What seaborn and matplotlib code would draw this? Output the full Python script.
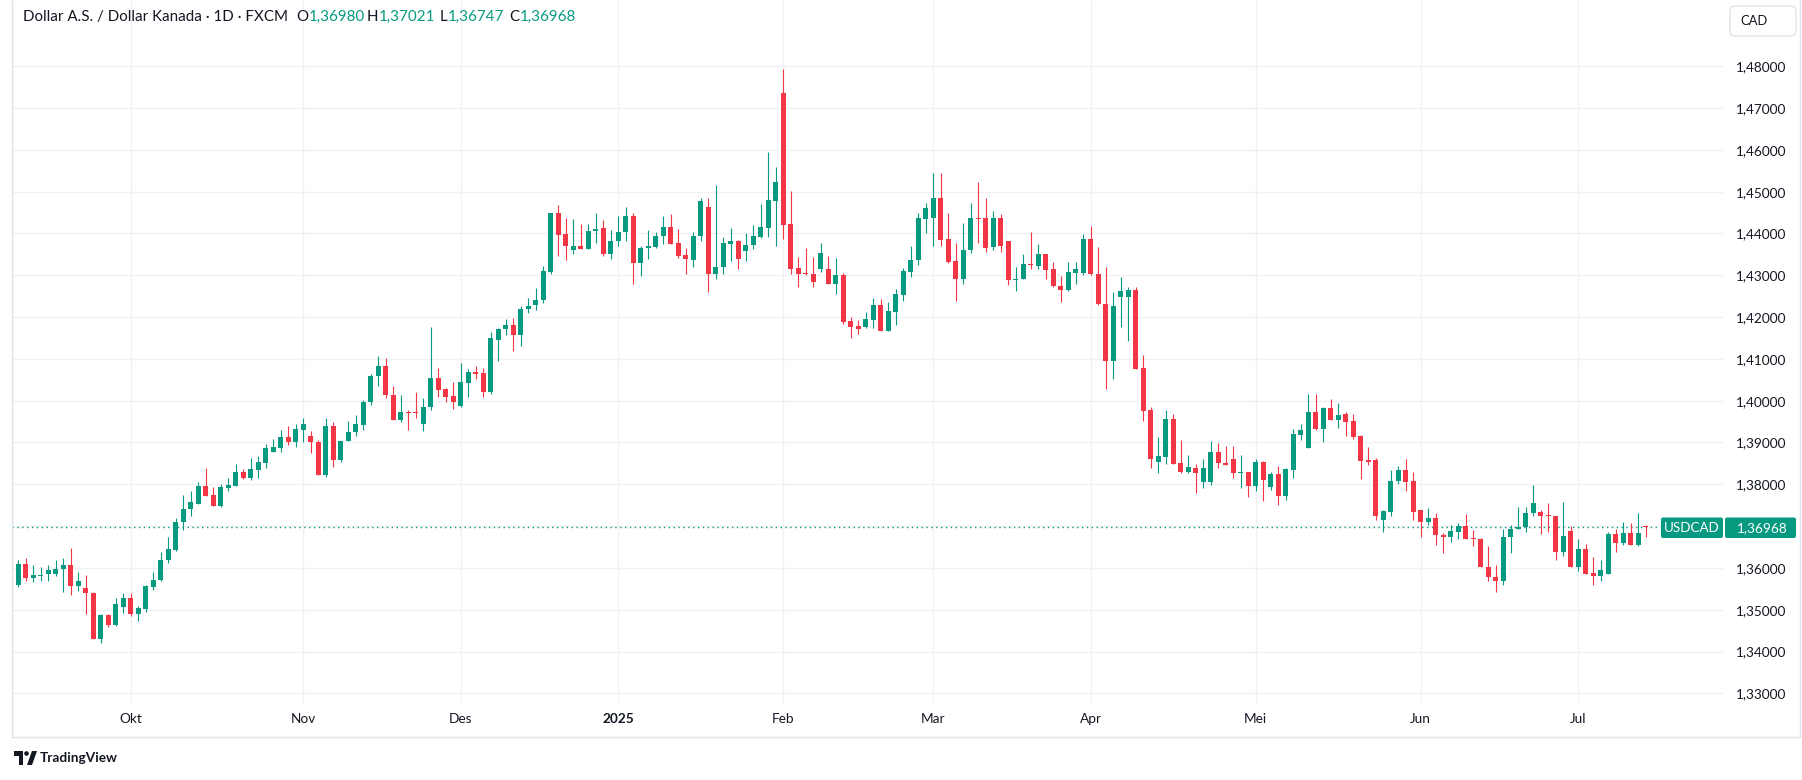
import matplotlib
matplotlib.use("Agg")
import matplotlib.pyplot as plt
from matplotlib.patches import FancyBboxPatch, Polygon, Circle
from matplotlib.lines import Line2D
from matplotlib.transforms import Affine2D
from matplotlib.ticker import FuncFormatter
import numpy as np
import pandas as pd
import seaborn as sns

# daily USD/CAD candles
opens = [
    1.3559, 1.3610, 1.3575, 1.3580, 1.3585, 1.3585, 1.3597, 1.3606, 1.3556, 1.3553,
    1.3541, 1.3430, 1.3487, 1.3463, 1.3506, 1.3527, 1.3490, 1.3502, 1.3554, 1.3571,
    1.3618, 1.3643, 1.3709, 1.3740, 1.3754, 1.3796, 1.3774, 1.3749, 1.3792, 1.3797,
    1.3830, 1.3816, 1.3835, 1.3852, 1.3878, 1.3888, 1.3914, 1.3902, 1.3931, 1.3916,
    1.3902, 1.3823, 1.3940, 1.3859, 1.3904, 1.3925, 1.3943, 1.3996, 1.4058, 1.4084,
    1.4014, 1.3955, 1.3973, 1.3973, 1.3945, 1.3984, 1.4054, 1.4028, 1.4011, 1.3988,
    1.4043, 1.4069, 1.4066, 1.4022, 1.4146, 1.4171, 1.4182, 1.4156, 1.4219, 1.4228,
    1.4241, 1.4309, 1.4448, 1.4398, 1.4360, 1.4371, 1.4362, 1.4407, 1.4413, 1.4352,
    1.4382, 1.4403, 1.4442, 1.4330, 1.4365, 1.4368, 1.4393, 1.4416, 1.4377, 1.4348,
    1.4337, 1.4393, 1.4463, 1.4304, 1.4319, 1.4375, 1.4382, 1.4357, 1.4372, 1.4392,
    1.4414, 1.4478, 1.4736, 1.4423, 1.4318, 1.4305, 1.4303, 1.4314, 1.4316, 1.4278,
    1.4301, 1.4190, 1.4178, 1.4177, 1.4194, 1.4229, 1.4167, 1.4213, 1.4254, 1.4309,
    1.4336, 1.4435, 1.4436, 1.4484, 1.4388, 1.4335, 1.4292, 1.4361, 1.4436, 1.4436,
    1.4367, 1.4438, 1.4383, 1.4288, 1.4291, 1.4326, 1.4322, 1.4350, 1.4314, 1.4275,
    1.4264, 1.4306, 1.4306, 1.4388, 1.4304, 1.4232, 1.4094, 1.4247, 1.4247, 1.4266,
    1.4079, 1.3978, 1.3854, 1.3866, 1.3956, 1.3852, 1.3830, 1.3839, 1.3806, 1.3806,
    1.3878, 1.3851, 1.3861, 1.3828, 1.3830, 1.3797, 1.3854, 1.3794, 1.3825, 1.3773,
    1.3835, 1.3919, 1.3886, 1.3974, 1.3933, 1.3983, 1.3954, 1.3969, 1.3952, 1.3916,
    1.3858, 1.3857, 1.3714, 1.3733, 1.3808, 1.3834, 1.3808, 1.3739, 1.3711, 1.3720,
    1.3679, 1.3673, 1.3687, 1.3701, 1.3671, 1.3670, 1.3603, 1.3579, 1.3568, 1.3673,
    1.3692, 1.3697, 1.3732, 1.3734, 1.3725, 1.3725, 1.3637, 1.3689, 1.3602, 1.3646,
    1.3587, 1.3580, 1.3585, 1.3682, 1.3659, 1.3684, 1.3654, 1.36980,
]
highs = [
    1.3618, 1.3624, 1.3606, 1.3601, 1.3608, 1.3618, 1.3624, 1.3648, 1.3591, 1.3582,
    1.3542, 1.3489, 1.3490, 1.3527, 1.3540, 1.3541, 1.3510, 1.3560, 1.3591, 1.3639,
    1.3675, 1.3720, 1.3775, 1.3785, 1.3806, 1.3839, 1.3794, 1.3801, 1.3815, 1.3849,
    1.3837, 1.3863, 1.3868, 1.3897, 1.3909, 1.3930, 1.3940, 1.3945, 1.3959, 1.3928,
    1.3906, 1.3959, 1.3950, 1.3904, 1.3952, 1.3966, 1.4002, 1.4065, 1.4106, 1.4103,
    1.4036, 1.4014, 1.3977, 1.4021, 1.4007, 1.4177, 1.4078, 1.4030, 1.4045, 1.4090,
    1.4076, 1.4083, 1.4078, 1.4165, 1.4174, 1.4196, 1.4198, 1.4227, 1.4246, 1.4270,
    1.4323, 1.4450, 1.4467, 1.4436, 1.4434, 1.4422, 1.4422, 1.4450, 1.4432, 1.4409,
    1.4442, 1.4464, 1.4449, 1.4370, 1.4409, 1.4404, 1.4442, 1.4447, 1.4411, 1.4365,
    1.4404, 1.4485, 1.4485, 1.4516, 1.4392, 1.4413, 1.4385, 1.4401, 1.4420, 1.4471,
    1.4595, 1.4559, 1.4794, 1.4502, 1.4344, 1.4366, 1.4344, 1.4378, 1.4347, 1.4342,
    1.4306, 1.4200, 1.4193, 1.4212, 1.4246, 1.4243, 1.4236, 1.4268, 1.4318, 1.4369,
    1.4450, 1.4472, 1.4544, 1.4544, 1.4450, 1.4378, 1.4426, 1.4474, 1.4523, 1.4486,
    1.4453, 1.4446, 1.4383, 1.4321, 1.4350, 1.4403, 1.4374, 1.4352, 1.4333, 1.4299,
    1.4331, 1.4333, 1.4398, 1.4417, 1.4367, 1.4319, 1.4259, 1.4297, 1.4273, 1.4273,
    1.4110, 1.3986, 1.3912, 1.3978, 1.3967, 1.3907, 1.3870, 1.3849, 1.3861, 1.3904,
    1.3899, 1.3892, 1.3892, 1.3870, 1.3830, 1.3861, 1.3856, 1.3830, 1.3844, 1.3839,
    1.3933, 1.3945, 1.4017, 1.4017, 1.3985, 1.4005, 1.3995, 1.3974, 1.3969, 1.3918,
    1.3890, 1.3863, 1.3739, 1.3834, 1.3844, 1.3860, 1.3829, 1.3739, 1.3744, 1.3732,
    1.3683, 1.3703, 1.3708, 1.3729, 1.3691, 1.3672, 1.3653, 1.3608, 1.3694, 1.3703,
    1.3746, 1.3746, 1.3798, 1.3739, 1.3756, 1.3725, 1.3758, 1.3701, 1.3668, 1.3658,
    1.3625, 1.3618, 1.3687, 1.3694, 1.3710, 1.3708, 1.3732, 1.37021,
]
lows = [
    1.3554, 1.3568, 1.3566, 1.3568, 1.3568, 1.3580, 1.3542, 1.3535, 1.3544, 1.3490,
    1.3429, 1.3420, 1.3459, 1.3460, 1.3492, 1.3485, 1.3473, 1.3494, 1.3547, 1.3568,
    1.3611, 1.3641, 1.3691, 1.3725, 1.3752, 1.3771, 1.3749, 1.3746, 1.3784, 1.3797,
    1.3813, 1.3811, 1.3814, 1.3838, 1.3878, 1.3878, 1.3895, 1.3890, 1.3902, 1.3876,
    1.3823, 1.3818, 1.3842, 1.3854, 1.3904, 1.3916, 1.3930, 1.3989, 1.4034, 1.4006,
    1.3955, 1.3950, 1.3930, 1.3958, 1.3928, 1.3978, 1.4010, 1.3998, 1.3981, 1.3986,
    1.4010, 1.4053, 1.4010, 1.4017, 1.4094, 1.4156, 1.4120, 1.4132, 1.4211, 1.4218,
    1.4233, 1.4304, 1.4346, 1.4336, 1.4350, 1.4362, 1.4362, 1.4377, 1.4345, 1.4338,
    1.4371, 1.4383, 1.4280, 1.4299, 1.4340, 1.4365, 1.4376, 1.4376, 1.4342, 1.4302,
    1.4321, 1.4383, 1.4261, 1.4290, 1.4302, 1.4335, 1.4316, 1.4335, 1.4363, 1.4389,
    1.4392, 1.4370, 1.4388, 1.4302, 1.4271, 1.4300, 1.4273, 1.4307, 1.4278, 1.4256,
    1.4184, 1.4150, 1.4160, 1.4174, 1.4174, 1.4167, 1.4167, 1.4182, 1.4239, 1.4295,
    1.4324, 1.4400, 1.4369, 1.4371, 1.4330, 1.4239, 1.4280, 1.4354, 1.4378, 1.4355,
    1.4360, 1.4355, 1.4276, 1.4262, 1.4291, 1.4315, 1.4315, 1.4291, 1.4271, 1.4235,
    1.4262, 1.4279, 1.4300, 1.4300, 1.4228, 1.4027, 1.4053, 1.4176, 1.4144, 1.4075,
    1.3952, 1.3840, 1.3828, 1.3849, 1.3849, 1.3828, 1.3828, 1.3780, 1.3792, 1.3799,
    1.3840, 1.3845, 1.3816, 1.3791, 1.3770, 1.3785, 1.3761, 1.3787, 1.3751, 1.3763,
    1.3814, 1.3906, 1.3886, 1.3930, 1.3902, 1.3954, 1.3935, 1.3916, 1.3909, 1.3813,
    1.3846, 1.3714, 1.3687, 1.3723, 1.3801, 1.3784, 1.3714, 1.3675, 1.3702, 1.3654,
    1.3635, 1.3661, 1.3670, 1.3668, 1.3652, 1.3602, 1.3568, 1.3542, 1.3559, 1.3635,
    1.3692, 1.3687, 1.3725, 1.3680, 1.3686, 1.3618, 1.3628, 1.3602, 1.3592, 1.3585,
    1.3559, 1.3568, 1.3585, 1.3639, 1.3654, 1.3654, 1.3652, 1.36747,
]
closes = [
    1.3610, 1.3575, 1.3582, 1.3584, 1.3594, 1.3598, 1.3606, 1.3556, 1.3568, 1.3540,
    1.3430, 1.3487, 1.3463, 1.3513, 1.3527, 1.3490, 1.3503, 1.3556, 1.3572, 1.3620,
    1.3646, 1.3710, 1.3741, 1.3758, 1.3796, 1.3772, 1.3749, 1.3794, 1.3798, 1.3830,
    1.3816, 1.3837, 1.3854, 1.3887, 1.3890, 1.3914, 1.3902, 1.3933, 1.3945, 1.3900,
    1.3823, 1.3940, 1.3859, 1.3904, 1.3926, 1.3945, 1.3998, 1.4060, 1.4084, 1.4013,
    1.3955, 1.3974, 1.3970, 1.3971, 1.3985, 1.4054, 1.4026, 1.4010, 1.3998, 1.4045,
    1.4069, 1.4064, 1.4022, 1.4150, 1.4172, 1.4182, 1.4156, 1.4220, 1.4227, 1.4242,
    1.4311, 1.4448, 1.4396, 1.4370, 1.4371, 1.4362, 1.4407, 1.4410, 1.4352, 1.4382,
    1.4404, 1.4442, 1.4330, 1.4365, 1.4370, 1.4394, 1.4416, 1.4376, 1.4347, 1.4338,
    1.4394, 1.4478, 1.4304, 1.4320, 1.4377, 1.4382, 1.4338, 1.4373, 1.4394, 1.4416,
    1.4480, 1.4523, 1.4421, 1.4316, 1.4304, 1.4303, 1.4285, 1.4354, 1.4278, 1.4301,
    1.4189, 1.4177, 1.4172, 1.4195, 1.4229, 1.4167, 1.4215, 1.4255, 1.4311, 1.4337,
    1.4436, 1.4460, 1.4484, 1.4385, 1.4332, 1.4292, 1.4361, 1.4436, 1.4434, 1.4366,
    1.4438, 1.4370, 1.4288, 1.4291, 1.4326, 1.4324, 1.4350, 1.4312, 1.4274, 1.4264,
    1.4307, 1.4314, 1.4388, 1.4303, 1.4231, 1.4094, 1.4227, 1.4263, 1.4266, 1.4077,
    1.3976, 1.3861, 1.3868, 1.3956, 1.3849, 1.3830, 1.3842, 1.3828, 1.3839, 1.3878,
    1.3850, 1.3846, 1.3828, 1.3830, 1.3797, 1.3854, 1.3811, 1.3825, 1.3773, 1.3837,
    1.3921, 1.3930, 1.3974, 1.3933, 1.3983, 1.3954, 1.3966, 1.3950, 1.3914, 1.3856,
    1.3854, 1.3725, 1.3735, 1.3808, 1.3834, 1.3806, 1.3733, 1.3711, 1.3720, 1.3678,
    1.3673, 1.3689, 1.3701, 1.3668, 1.3668, 1.3602, 1.3578, 1.3568, 1.3675, 1.3694,
    1.3698, 1.3732, 1.3756, 1.3723, 1.3723, 1.3637, 1.3677, 1.3602, 1.3646, 1.3585,
    1.3580, 1.3596, 1.3682, 1.3659, 1.3684, 1.3654, 1.3684, 1.36968,
]

first_day = "2024-09-10"
last_day = "2025-07-14"
closed_days = ["2024-12-25", "2025-01-01"]
month_names = {1: "Jan", 2: "Feb", 3: "Mar", 4: "Apr", 5: "Mei", 6: "Jun",
               7: "Jul", 8: "Agu", 9: "Sep", 10: "Okt", 11: "Nov", 12: "Des"}
price_ticks = [1.33, 1.34, 1.35, 1.36, 1.37, 1.38, 1.39, 1.40,
               1.41, 1.42, 1.43, 1.44, 1.45, 1.46, 1.47, 1.48]

title = "Dollar A.S. / Dollar Kanada \u00b7 1D \u00b7 FXCM"
symbol = "USDCAD"
currency = "CAD"

dates = pd.bdate_range(first_day, last_day)
dates = dates[~dates.isin(pd.to_datetime(closed_days))]
df = pd.DataFrame({"date": dates, "open": opens, "high": highs,
                   "low": lows, "close": closes})
df["x"] = np.arange(len(df))
df["up"] = df["close"] >= df["open"]

GREEN = "#089981"
RED = "#f23645"
INK = "#131722"
GRID = "#f0f1f4"
FRAME = "#e0e3eb"

W, H = 1802, 780
sns.set_theme(style="white")
plt.rcParams["font.family"] = ["Lato", "DejaVu Sans"]

fig = plt.figure(figsize=(W / 100, H / 100), dpi=100)
PX = Affine2D().scale(1 / fig.dpi) + fig.dpi_scale_trans
renderer = fig.canvas.get_renderer()


def top(y):
    return H - y


def fmt(v):
    return f"{v:.5f}".replace(".", ",")


ax = fig.add_axes([12 / W, 1 - 703 / H, (1723 - 12) / W, 703 / H])

colors = np.where(df["up"], GREEN, RED)
body_lo = df[["open", "close"]].min(axis=1)
body_h = (df["close"] - df["open"]).abs().clip(lower=0.00025)
ax.vlines(df["x"], df["low"], df["high"], colors=colors, linewidth=0.8, zorder=2)
ax.bar(df["x"], body_h, bottom=body_lo, width=0.66, color=colors, linewidth=0, zorder=3)

ax.set_xlim(-0.84, 227.3)
ax.set_ylim(1.32768, 1.49586)

# month ticks at the first bar of each new month
month_key = df["date"].dt.to_period("M")
starts = df.index[month_key != month_key.shift()][1:]
tick_labels = []
for i in starts:
    d = df.loc[i, "date"]
    tick_labels.append(str(d.year) if d.month == 1 else month_names[d.month])
ax.set_xticks(df.loc[starts, "x"])
ax.set_xticklabels(tick_labels)
for lab in ax.get_xticklabels():
    if lab.get_text().isdigit():
        lab.set_fontweight("bold")

ax.set_yticks(price_ticks)
ax.yaxis.set_major_formatter(FuncFormatter(lambda v, p: fmt(v)))
ax.yaxis.tick_right()
ax.tick_params(axis="y", length=0, pad=9.5, labelsize=9.8, labelcolor=INK)
ax.tick_params(axis="x", length=0, pad=7.5, labelsize=9.8, labelcolor=INK)
ax.grid(True, color=GRID, linewidth=1)
ax.set_axisbelow(True)
for s in ax.spines.values():
    s.set_visible(False)

last_close = df["close"].iloc[-1]
ax.axhline(last_close, xmin=0, xmax=(1660 - 12) / (1723 - 12), color=GREEN,
           linewidth=1, linestyle=(0, (1, 2.5)), zorder=1)

# frame around the chart
fig.add_artist(Line2D([12, 12], [top(0), top(737)], transform=PX, color=FRAME, lw=1))
fig.add_artist(Line2D([12, 1800], [top(737), top(737)], transform=PX, color=FRAME, lw=1))
fig.add_artist(Line2D([1800, 1800], [top(0), top(737)], transform=PX, color=FRAME, lw=1))

# last price labels
fig.add_artist(FancyBboxPatch((1661, top(538)), 62, 20.5, boxstyle="round,pad=0,rounding_size=2",
                              transform=PX, facecolor=GREEN, edgecolor="none"))
fig.add_artist(FancyBboxPatch((1725, top(538)), 71, 20.5, boxstyle="round,pad=0,rounding_size=2",
                              transform=PX, facecolor=GREEN, edgecolor="none"))
fig.text(1692, top(527.8), symbol, transform=PX, color="white", fontsize=9.6,
         ha="center", va="center")
fig.text(1762, top(527.8), fmt(last_close), transform=PX,
         color="white", fontsize=9.8, ha="center", va="center")

# currency box
fig.add_artist(FancyBboxPatch((1730, top(36)), 66, 30, boxstyle="round,pad=0,rounding_size=5",
                              transform=PX, facecolor="white", edgecolor=FRAME, lw=1))
fig.text(1740, top(21), currency, transform=PX, color=INK, fontsize=9.4, ha="left", va="center")

# header legend: title sized to the reference width, values follow
o, h, l, c = df.iloc[-1][["open", "high", "low", "close"]]
t = fig.text(23, top(17), title, transform=PX, color=INK, fontsize=10, ha="left", va="center")
size = 10 * 263 / t.get_window_extent(renderer).width
t.set_fontsize(size)
for x0, key, val in [(296, "O", o), (367, "H", h), (440, "L", l), (509, "C", c)]:
    k = fig.text(x0, top(17), key, transform=PX, color=INK, fontsize=size, ha="left", va="center")
    kw = k.get_window_extent(renderer).width
    fig.text(x0 + kw + 0.5, top(17), fmt(val), transform=PX, color=GREEN, fontsize=size,
             ha="left", va="center")

# TradingView mark
fig.add_artist(Polygon([(14, top(751)), (23, top(751)), (23, top(765)), (18.5, top(765)),
                        (18.5, top(755.5)), (14, top(755.5))], closed=True,
                       transform=PX, facecolor=INK, edgecolor="none"))
fig.add_artist(Circle((26.5, top(753.5)), 2.3, transform=PX, facecolor=INK, edgecolor="none"))
fig.add_artist(Polygon([(27, top(765)), (32, top(751)), (37, top(751)), (32, top(765))],
                       closed=True, transform=PX, facecolor=INK, edgecolor="none"))
fig.text(40, top(758), "TradingView", transform=PX, color=INK, fontsize=9.8,
         fontweight="bold", ha="left", va="center")

fig.savefig("out.png", dpi=100, facecolor="white")
